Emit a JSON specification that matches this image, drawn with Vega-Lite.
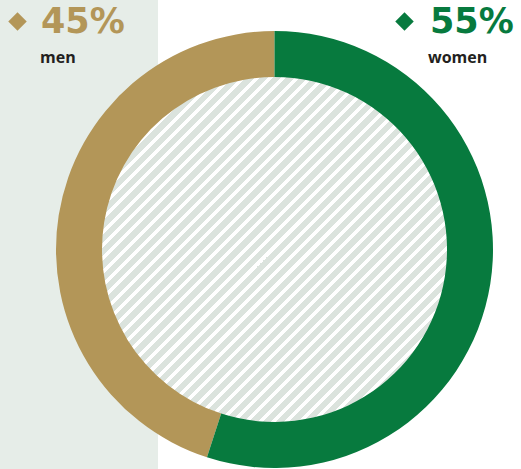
{
  "$schema": "https://vega.github.io/schema/vega-lite/v6.json",
  "width": 521,
  "height": 469,
  "autosize": {"type": "fit", "contains": "padding"},
  "padding": 0,
  "background": "#ffffff",
  "config": {"view": {"stroke": null}},
  "data": {"values": [
    {"gender": "men", "share": 0.45},
    {"gender": "women", "share": 0.55}
  ]},
  "layer": [
    {
      "data": {"values": [{"panel": "left"}]},
      "mark": {"type": "rect", "color": "#e6ede8"},
      "encoding": {
        "x": {"datum": 0, "type": "quantitative", "scale": {"domain": [0, 521], "nice": false, "zero": false}, "axis": null},
        "x2": {"datum": 158},
        "y": {"datum": 0, "type": "quantitative", "scale": {"domain": [469, 0], "nice": false, "zero": false}, "axis": null},
        "y2": {"datum": 469}
      }
    },
    {
      "data": {"values": [{"part": "inner"}]},
      "mark": {
        "type": "arc",
        "outerRadius": 173.5,
        "innerRadius": 0,
        "theta": 0,
        "theta2": 6.2832,
        "fill": {
          "gradient": "linear",
          "x1": 0, "y1": 0, "x2": 1, "y2": 1,
          "stops": [
            {"offset":0,"color":"#dbe3dd"},{"offset":0.01192,"color":"#dbe3dd"},{"offset":0.01192,"color":"#fff"},{"offset":0.01923,"color":"#fff"},
            {"offset":0.01923,"color":"#dbe3dd"},{"offset":0.03115,"color":"#dbe3dd"},{"offset":0.03115,"color":"#fff"},{"offset":0.03846,"color":"#fff"},
            {"offset":0.03846,"color":"#dbe3dd"},{"offset":0.05038,"color":"#dbe3dd"},{"offset":0.05038,"color":"#fff"},{"offset":0.05769,"color":"#fff"},
            {"offset":0.05769,"color":"#dbe3dd"},{"offset":0.06961,"color":"#dbe3dd"},{"offset":0.06961,"color":"#fff"},{"offset":0.07692,"color":"#fff"},
            {"offset":0.07692,"color":"#dbe3dd"},{"offset":0.08884,"color":"#dbe3dd"},{"offset":0.08884,"color":"#fff"},{"offset":0.09615,"color":"#fff"},
            {"offset":0.09615,"color":"#dbe3dd"},{"offset":0.10807,"color":"#dbe3dd"},{"offset":0.10807,"color":"#fff"},{"offset":0.11538,"color":"#fff"},
            {"offset":0.11538,"color":"#dbe3dd"},{"offset":0.1273,"color":"#dbe3dd"},{"offset":0.1273,"color":"#fff"},{"offset":0.13462,"color":"#fff"},
            {"offset":0.13462,"color":"#dbe3dd"},{"offset":0.14654,"color":"#dbe3dd"},{"offset":0.14654,"color":"#fff"},{"offset":0.15385,"color":"#fff"},
            {"offset":0.15385,"color":"#dbe3dd"},{"offset":0.16577,"color":"#dbe3dd"},{"offset":0.16577,"color":"#fff"},{"offset":0.17308,"color":"#fff"},
            {"offset":0.17308,"color":"#dbe3dd"},{"offset":0.185,"color":"#dbe3dd"},{"offset":0.185,"color":"#fff"},{"offset":0.19231,"color":"#fff"},
            {"offset":0.19231,"color":"#dbe3dd"},{"offset":0.20423,"color":"#dbe3dd"},{"offset":0.20423,"color":"#fff"},{"offset":0.21154,"color":"#fff"},
            {"offset":0.21154,"color":"#dbe3dd"},{"offset":0.22346,"color":"#dbe3dd"},{"offset":0.22346,"color":"#fff"},{"offset":0.23077,"color":"#fff"},
            {"offset":0.23077,"color":"#dbe3dd"},{"offset":0.24269,"color":"#dbe3dd"},{"offset":0.24269,"color":"#fff"},{"offset":0.25,"color":"#fff"},
            {"offset":0.25,"color":"#dbe3dd"},{"offset":0.26192,"color":"#dbe3dd"},{"offset":0.26192,"color":"#fff"},{"offset":0.26923,"color":"#fff"},
            {"offset":0.26923,"color":"#dbe3dd"},{"offset":0.28115,"color":"#dbe3dd"},{"offset":0.28115,"color":"#fff"},{"offset":0.28846,"color":"#fff"},
            {"offset":0.28846,"color":"#dbe3dd"},{"offset":0.30038,"color":"#dbe3dd"},{"offset":0.30038,"color":"#fff"},{"offset":0.30769,"color":"#fff"},
            {"offset":0.30769,"color":"#dbe3dd"},{"offset":0.31961,"color":"#dbe3dd"},{"offset":0.31961,"color":"#fff"},{"offset":0.32692,"color":"#fff"},
            {"offset":0.32692,"color":"#dbe3dd"},{"offset":0.33884,"color":"#dbe3dd"},{"offset":0.33884,"color":"#fff"},{"offset":0.34615,"color":"#fff"},
            {"offset":0.34615,"color":"#dbe3dd"},{"offset":0.35807,"color":"#dbe3dd"},{"offset":0.35807,"color":"#fff"},{"offset":0.36538,"color":"#fff"},
            {"offset":0.36538,"color":"#dbe3dd"},{"offset":0.3773,"color":"#dbe3dd"},{"offset":0.3773,"color":"#fff"},{"offset":0.38462,"color":"#fff"},
            {"offset":0.38462,"color":"#dbe3dd"},{"offset":0.39654,"color":"#dbe3dd"},{"offset":0.39654,"color":"#fff"},{"offset":0.40385,"color":"#fff"},
            {"offset":0.40385,"color":"#dbe3dd"},{"offset":0.41577,"color":"#dbe3dd"},{"offset":0.41577,"color":"#fff"},{"offset":0.42308,"color":"#fff"},
            {"offset":0.42308,"color":"#dbe3dd"},{"offset":0.435,"color":"#dbe3dd"},{"offset":0.435,"color":"#fff"},{"offset":0.44231,"color":"#fff"},
            {"offset":0.44231,"color":"#dbe3dd"},{"offset":0.45423,"color":"#dbe3dd"},{"offset":0.45423,"color":"#fff"},{"offset":0.46154,"color":"#fff"},
            {"offset":0.46154,"color":"#dbe3dd"},{"offset":0.47346,"color":"#dbe3dd"},{"offset":0.47346,"color":"#fff"},{"offset":0.48077,"color":"#fff"},
            {"offset":0.48077,"color":"#dbe3dd"},{"offset":0.49269,"color":"#dbe3dd"},{"offset":0.49269,"color":"#fff"},{"offset":0.5,"color":"#fff"},
            {"offset":0.5,"color":"#dbe3dd"},{"offset":0.51192,"color":"#dbe3dd"},{"offset":0.51192,"color":"#fff"},{"offset":0.51923,"color":"#fff"},
            {"offset":0.51923,"color":"#dbe3dd"},{"offset":0.53115,"color":"#dbe3dd"},{"offset":0.53115,"color":"#fff"},{"offset":0.53846,"color":"#fff"},
            {"offset":0.53846,"color":"#dbe3dd"},{"offset":0.55038,"color":"#dbe3dd"},{"offset":0.55038,"color":"#fff"},{"offset":0.55769,"color":"#fff"},
            {"offset":0.55769,"color":"#dbe3dd"},{"offset":0.56961,"color":"#dbe3dd"},{"offset":0.56961,"color":"#fff"},{"offset":0.57692,"color":"#fff"},
            {"offset":0.57692,"color":"#dbe3dd"},{"offset":0.58884,"color":"#dbe3dd"},{"offset":0.58884,"color":"#fff"},{"offset":0.59615,"color":"#fff"},
            {"offset":0.59615,"color":"#dbe3dd"},{"offset":0.60807,"color":"#dbe3dd"},{"offset":0.60807,"color":"#fff"},{"offset":0.61538,"color":"#fff"},
            {"offset":0.61538,"color":"#dbe3dd"},{"offset":0.6273,"color":"#dbe3dd"},{"offset":0.6273,"color":"#fff"},{"offset":0.63462,"color":"#fff"},
            {"offset":0.63462,"color":"#dbe3dd"},{"offset":0.64654,"color":"#dbe3dd"},{"offset":0.64654,"color":"#fff"},{"offset":0.65385,"color":"#fff"},
            {"offset":0.65385,"color":"#dbe3dd"},{"offset":0.66577,"color":"#dbe3dd"},{"offset":0.66577,"color":"#fff"},{"offset":0.67308,"color":"#fff"},
            {"offset":0.67308,"color":"#dbe3dd"},{"offset":0.685,"color":"#dbe3dd"},{"offset":0.685,"color":"#fff"},{"offset":0.69231,"color":"#fff"},
            {"offset":0.69231,"color":"#dbe3dd"},{"offset":0.70423,"color":"#dbe3dd"},{"offset":0.70423,"color":"#fff"},{"offset":0.71154,"color":"#fff"},
            {"offset":0.71154,"color":"#dbe3dd"},{"offset":0.72346,"color":"#dbe3dd"},{"offset":0.72346,"color":"#fff"},{"offset":0.73077,"color":"#fff"},
            {"offset":0.73077,"color":"#dbe3dd"},{"offset":0.74269,"color":"#dbe3dd"},{"offset":0.74269,"color":"#fff"},{"offset":0.75,"color":"#fff"},
            {"offset":0.75,"color":"#dbe3dd"},{"offset":0.76192,"color":"#dbe3dd"},{"offset":0.76192,"color":"#fff"},{"offset":0.76923,"color":"#fff"},
            {"offset":0.76923,"color":"#dbe3dd"},{"offset":0.78115,"color":"#dbe3dd"},{"offset":0.78115,"color":"#fff"},{"offset":0.78846,"color":"#fff"},
            {"offset":0.78846,"color":"#dbe3dd"},{"offset":0.80038,"color":"#dbe3dd"},{"offset":0.80038,"color":"#fff"},{"offset":0.80769,"color":"#fff"},
            {"offset":0.80769,"color":"#dbe3dd"},{"offset":0.81961,"color":"#dbe3dd"},{"offset":0.81961,"color":"#fff"},{"offset":0.82692,"color":"#fff"},
            {"offset":0.82692,"color":"#dbe3dd"},{"offset":0.83884,"color":"#dbe3dd"},{"offset":0.83884,"color":"#fff"},{"offset":0.84615,"color":"#fff"},
            {"offset":0.84615,"color":"#dbe3dd"},{"offset":0.85807,"color":"#dbe3dd"},{"offset":0.85807,"color":"#fff"},{"offset":0.86538,"color":"#fff"},
            {"offset":0.86538,"color":"#dbe3dd"},{"offset":0.8773,"color":"#dbe3dd"},{"offset":0.8773,"color":"#fff"},{"offset":0.88462,"color":"#fff"},
            {"offset":0.88462,"color":"#dbe3dd"},{"offset":0.89654,"color":"#dbe3dd"},{"offset":0.89654,"color":"#fff"},{"offset":0.90385,"color":"#fff"},
            {"offset":0.90385,"color":"#dbe3dd"},{"offset":0.91577,"color":"#dbe3dd"},{"offset":0.91577,"color":"#fff"},{"offset":0.92308,"color":"#fff"},
            {"offset":0.92308,"color":"#dbe3dd"},{"offset":0.935,"color":"#dbe3dd"},{"offset":0.935,"color":"#fff"},{"offset":0.94231,"color":"#fff"},
            {"offset":0.94231,"color":"#dbe3dd"},{"offset":0.95423,"color":"#dbe3dd"},{"offset":0.95423,"color":"#fff"},{"offset":0.96154,"color":"#fff"},
            {"offset":0.96154,"color":"#dbe3dd"},{"offset":0.97346,"color":"#dbe3dd"},{"offset":0.97346,"color":"#fff"},{"offset":0.98077,"color":"#fff"},
            {"offset":0.98077,"color":"#dbe3dd"},{"offset":0.99269,"color":"#dbe3dd"},{"offset":0.99269,"color":"#fff"},{"offset":1,"color":"#fff"}
          ]
        }
      },
      "encoding": {
        "x": {"datum": 274.5, "type": "quantitative", "axis": null},
        "y": {"datum": 249.5, "type": "quantitative", "axis": null}
      }
    },
    {
      "mark": {"type": "arc", "outerRadius": 218.5, "innerRadius": 172.5},
      "encoding": {
        "theta": {"field": "share", "type": "quantitative", "stack": true},
        "order": {"field": "gender", "sort": "descending"},
        "color": {"field": "gender", "type": "nominal", "scale": {"domain": ["men", "women"], "range": ["#b39658", "#077a3e"]}, "legend": null},
        "x": {"datum": 274.5, "type": "quantitative", "axis": null},
        "y": {"datum": 249.5, "type": "quantitative", "axis": null}
      }
    },
    {
      "transform": [{"filter": "datum.gender === 'men'"}],
      "layer": [
        {
          "mark": {"type": "point", "shape": "diamond", "filled": true, "size": 340, "opacity": 1},
          "encoding": {
            "x": {"datum": 17.5, "type": "quantitative", "axis": null},
            "y": {"datum": 21.5, "type": "quantitative", "axis": null},
            "color": {"field": "gender", "type": "nominal", "legend": null}
          }
        },
        {
          "mark": {"type": "text", "align": "left", "baseline": "alphabetic", "font": "DejaVu Sans", "fontWeight": "bold", "fontSize": 35},
          "encoding": {
            "x": {"datum": 41, "type": "quantitative", "axis": null},
            "y": {"datum": 33, "type": "quantitative", "axis": null},
            "text": {"field": "share", "type": "quantitative", "format": ".0%"},
            "color": {"field": "gender", "type": "nominal", "legend": null}
          }
        },
        {
          "mark": {"type": "text", "align": "left", "baseline": "alphabetic", "font": "Open Sans", "fontWeight": "bold", "fontSize": 16, "color": "#231f20"},
          "encoding": {
            "x": {"datum": 40, "type": "quantitative", "axis": null},
            "y": {"datum": 63, "type": "quantitative", "axis": null},
            "text": {"field": "gender", "type": "nominal"}
          }
        }
      ]
    },
    {
      "transform": [{"filter": "datum.gender === 'women'"}],
      "layer": [
        {
          "mark": {"type": "point", "shape": "diamond", "filled": true, "size": 340, "opacity": 1},
          "encoding": {
            "x": {"datum": 404.5, "type": "quantitative", "axis": null},
            "y": {"datum": 21.5, "type": "quantitative", "axis": null},
            "color": {"field": "gender", "type": "nominal", "legend": null}
          }
        },
        {
          "mark": {"type": "text", "align": "left", "baseline": "alphabetic", "font": "DejaVu Sans", "fontWeight": "bold", "fontSize": 35},
          "encoding": {
            "x": {"datum": 430, "type": "quantitative", "axis": null},
            "y": {"datum": 33, "type": "quantitative", "axis": null},
            "text": {"field": "share", "type": "quantitative", "format": ".0%"},
            "color": {"field": "gender", "type": "nominal", "legend": null}
          }
        },
        {
          "mark": {"type": "text", "align": "left", "baseline": "alphabetic", "font": "Open Sans", "fontWeight": "bold", "fontSize": 16, "color": "#231f20"},
          "encoding": {
            "x": {"datum": 428, "type": "quantitative", "axis": null},
            "y": {"datum": 63, "type": "quantitative", "axis": null},
            "text": {"field": "gender", "type": "nominal"}
          }
        }
      ]
    }
  ]
}
